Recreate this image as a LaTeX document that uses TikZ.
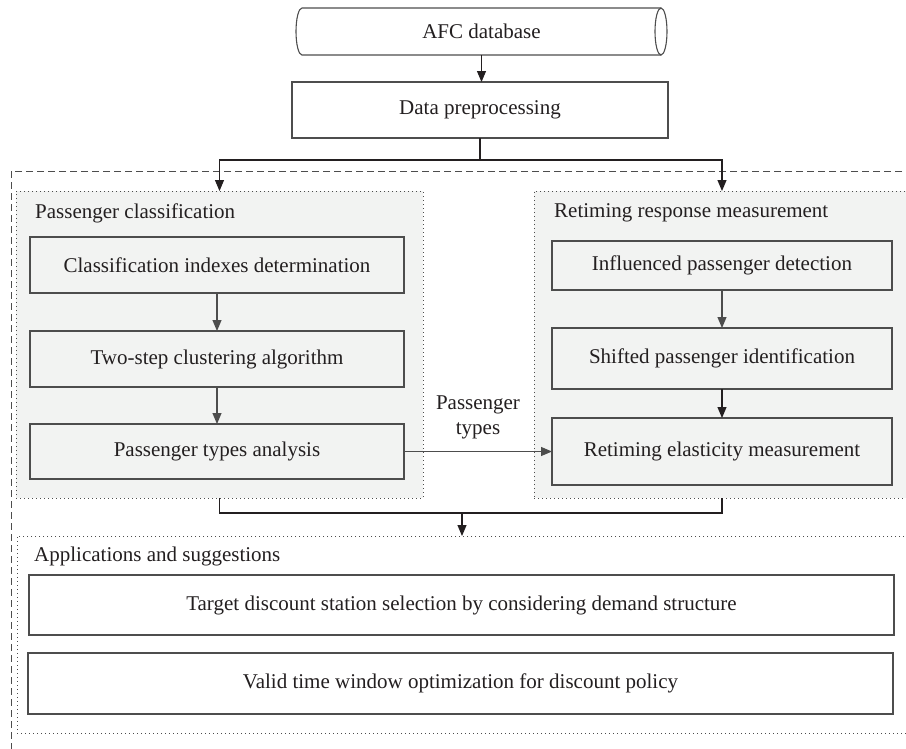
\documentclass[tikz,border=0pt]{standalone}
\usepackage{fontspec}
\setmainfont{Liberation Serif}
\usetikzlibrary{arrows.meta}
\definecolor{bord}{HTML}{4D4D4D}
\definecolor{grpfill}{HTML}{F2F3F2}
\definecolor{txt}{HTML}{231F20}
\begin{document}
\begin{tikzpicture}[x=1pt,y=-1pt,
  font=\fontsize{21}{25}\selectfont, text=txt,
  box/.style={draw=bord, line width=1.1pt, fill=white, inner sep=0pt, outer sep=0pt, align=center},
  gbox/.style={box, fill=grpfill},
  grpbox/.style={draw=bord, line width=1pt, fill=grpfill, dash pattern=on 1.2pt off 2.8pt, inner sep=0pt, outer sep=0pt},
  appgrp/.style={draw=bord, line width=1pt, fill=white, dash pattern=on 1.2pt off 2.8pt, inner sep=0pt, outer sep=0pt},
  outerbox/.style={draw=bord, line width=1pt, dash pattern=on 7pt off 4pt},
  ln/.style={draw=txt, line width=1.1pt},
  arr/.style={ln, -{Triangle[length=11pt,width=9pt]}},
  garr/.style={draw=bord, line width=1.1pt, -{Triangle[length=11pt,width=9pt]}},
  title/.style={anchor=west, inner sep=0pt}
]
\useasboundingbox (0,0) rectangle (906,748);
\clip (0,0) rectangle (906,748);
\fill[white] (0,0) rectangle (906,748);

% outer dashed frame
\draw[outerbox] (11,171) rectangle (935,765);

% top cylinder
\node[inner sep=0pt, outer sep=0pt, minimum width=359, minimum height=47] (afc) at (481.5,31.5) {AFC database};
\draw[draw=bord, line width=1.1pt] (afc.north east) -- (afc.north west)
   arc[start angle=270, end angle=90, x radius=6, y radius=23.5] -- (afc.south east);
\draw[draw=bord, line width=1.1pt] (afc.east) ellipse [x radius=6, y radius=23.5];

\node[box, minimum width=376, minimum height=56] (pre) at (480,110) {Data preprocessing};

% group boxes
\node[grpbox, minimum width=407, minimum height=307] (pc) at (219.5,344.5) {};
\node[grpbox, minimum width=396, minimum height=307] (rr) at (732,344.5) {};
\node[appgrp, minimum width=913, minimum height=197] (app) at (473.5,634.5) {};

\node[title] (pct) at (35,213) {Passenger classification};
\node[title] (rrt) at (554,213) {Retiming response measurement};
\node[title] (appt) at (34,556) {Applications and suggestions};

% left column
\node[gbox, minimum width=374, minimum height=56] (c1) at (217,265) {Classification indexes determination};
\node[gbox, minimum width=374, minimum height=56] (c2) at (217,359) {Two-step clustering algorithm};
\node[gbox, minimum width=374, minimum height=55] (c3) at (217,451.5) {Passenger types analysis};

% right column
\node[gbox, minimum width=340, minimum height=49] (r1) at (722,265.5) {Influenced passenger detection};
\node[gbox, minimum width=340, minimum height=61] (r2) at (722,358.5) {Shifted passenger identification};
\node[gbox, minimum width=340, minimum height=67] (r3) at (722,451.5) {Retiming elasticity measurement};

% bottom boxes
\node[box, minimum width=865, minimum height=60] (a1) at (461.5,605) {Target discount station selection by considering demand structure};
\node[box, minimum width=865, minimum height=61] (a2) at (460.5,683.5) {Valid time window optimization for discount policy};

% connectors
\draw[arr] (afc.south) -- (afc.south |- pre.north);
\coordinate (split) at (480,160);
\draw[ln] (pre.south) -- (split);
\draw[arr] (split) -| (pc.north);
\draw[arr] (split) -| (r1 |- rr.north);

\draw[garr] (c1) -- (c2);
\draw[garr] (c2) -- (c3);
\draw[garr] (r1) -- (r2);
\draw[arr] (r2) -- (r3);

\draw[garr] (c3.east) -- node[above=12pt, align=center, inner sep=0pt] (pt) {Passenger\\types} (r3.west);

\coordinate (join) at (462,513);
\draw[ln] (pc.south) |- (join) -| (r3 |- rr.south);
\draw[arr] (join) -- (join |- app.north);
\end{tikzpicture}
\end{document}
